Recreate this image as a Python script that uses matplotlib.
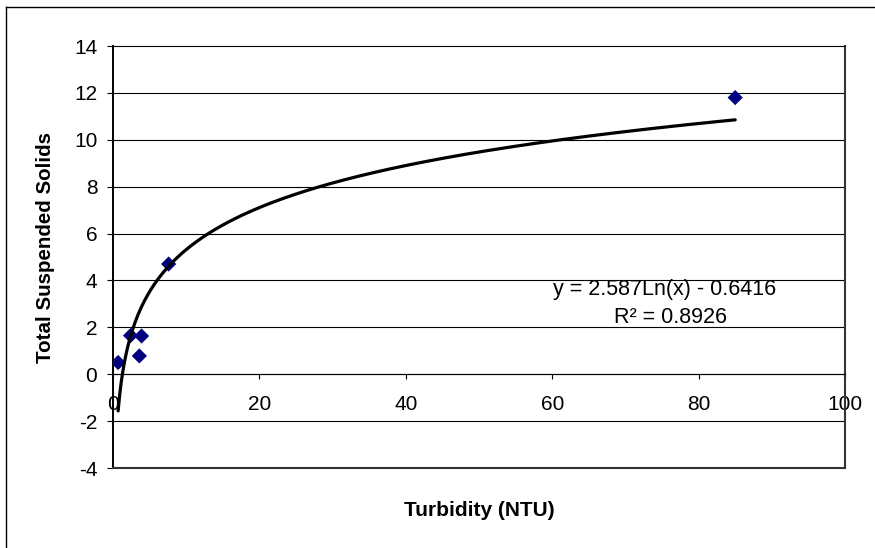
import numpy as np
import matplotlib
matplotlib.use("Agg")
import matplotlib.pyplot as plt
from matplotlib.lines import Line2D

plt.rcParams['font.family'] = ['Liberation Sans', 'DejaVu Sans']
plt.rcParams['axes.unicode_minus'] = False

# data
turbidity = [0.7, 2.4, 3.6, 3.9, 7.6, 85.0]
tss = [0.5, 1.65, 0.78, 1.63, 4.7, 11.8]
# logarithmic trendline shown on the chart
coef_a = 2.587
coef_b = -0.6416
r_squared = 0.8926
x_ticks = [0, 20, 40, 60, 80, 100]
y_ticks = [-4, -2, 0, 2, 4, 6, 8, 10, 12, 14]

W, H = 875, 548
fig = plt.figure(figsize=(W / 100, H / 100), dpi=100)
L, R, T, B = 113, 845, 46, 468
ax = fig.add_axes([L / W, 1 - B / H, (R - L) / W, (B - T) / H])

ax.set_xlim(0, 100)
ax.set_ylim(-4, 14)
ax.set_xticks(x_ticks)
ax.set_yticks(y_ticks)

for yv in y_ticks[1:-1]:
    ax.axhline(yv, color='black', lw=0.8, zorder=1)

ax.scatter(turbidity, tss, marker='D', s=60, color='#000080', edgecolors='none', zorder=3)

xf = np.linspace(min(turbidity), max(turbidity), 400)
yf = coef_a * np.log(xf) + coef_b
ax.plot(xf, yf, color='black', lw=2.3, zorder=4, solid_capstyle='round')

ax.spines['bottom'].set_position(('data', 0))
ax.spines['bottom'].set_linewidth(0.8)
ax.spines['bottom'].set_color('black')
ax.spines['top'].set_linewidth(0.8)
ax.spines['top'].set_color('black')
ax.spines['left'].set_linewidth(1.4)
ax.spines['left'].set_color('black')
ax.spines['right'].set_linewidth(1.5)
ax.spines['right'].set_color('#333333')
ax.axhline(-4, color='#333333', lw=1.5, zorder=5, clip_on=False)

ax.tick_params(axis='y', direction='out', length=4.3, width=0.8, pad=7, labelsize=15)
ax.tick_params(axis='x', direction='out', length=3.6, width=0.8, pad=11.5, labelsize=15)

fig.text(45.5 / W, 1 - 247.5 / H, 'Total Suspended Solids', rotation=90,
         ha='center', va='center', fontsize=14.8, fontweight='bold')
fig.text(479 / W, 1 - 511 / H, 'Turbidity (NTU)', ha='center', va='center',
         fontsize=15, fontweight='bold')

fig.text(665 / W, 1 - 290 / H, f'y = {coef_a}Ln(x) - {abs(coef_b)}', fontsize=15.5,
         ha='center', va='center')
fig.text(671 / W, 1 - 317.5 / H, f'R\u00b2 = {r_squared}', fontsize=15.5,
         ha='center', va='center')

# outer chart border (left and top visible)
fig.add_artist(Line2D([5.5 / W, 5.5 / W], [0, 1 - 6.5 / H], transform=fig.transFigure,
                      color='black', lw=1.0))
fig.add_artist(Line2D([5.5 / W, 1], [1 - 6.5 / H, 1 - 6.5 / H], transform=fig.transFigure,
                      color='black', lw=1.0))

fig.savefig('out.png', dpi=100)
